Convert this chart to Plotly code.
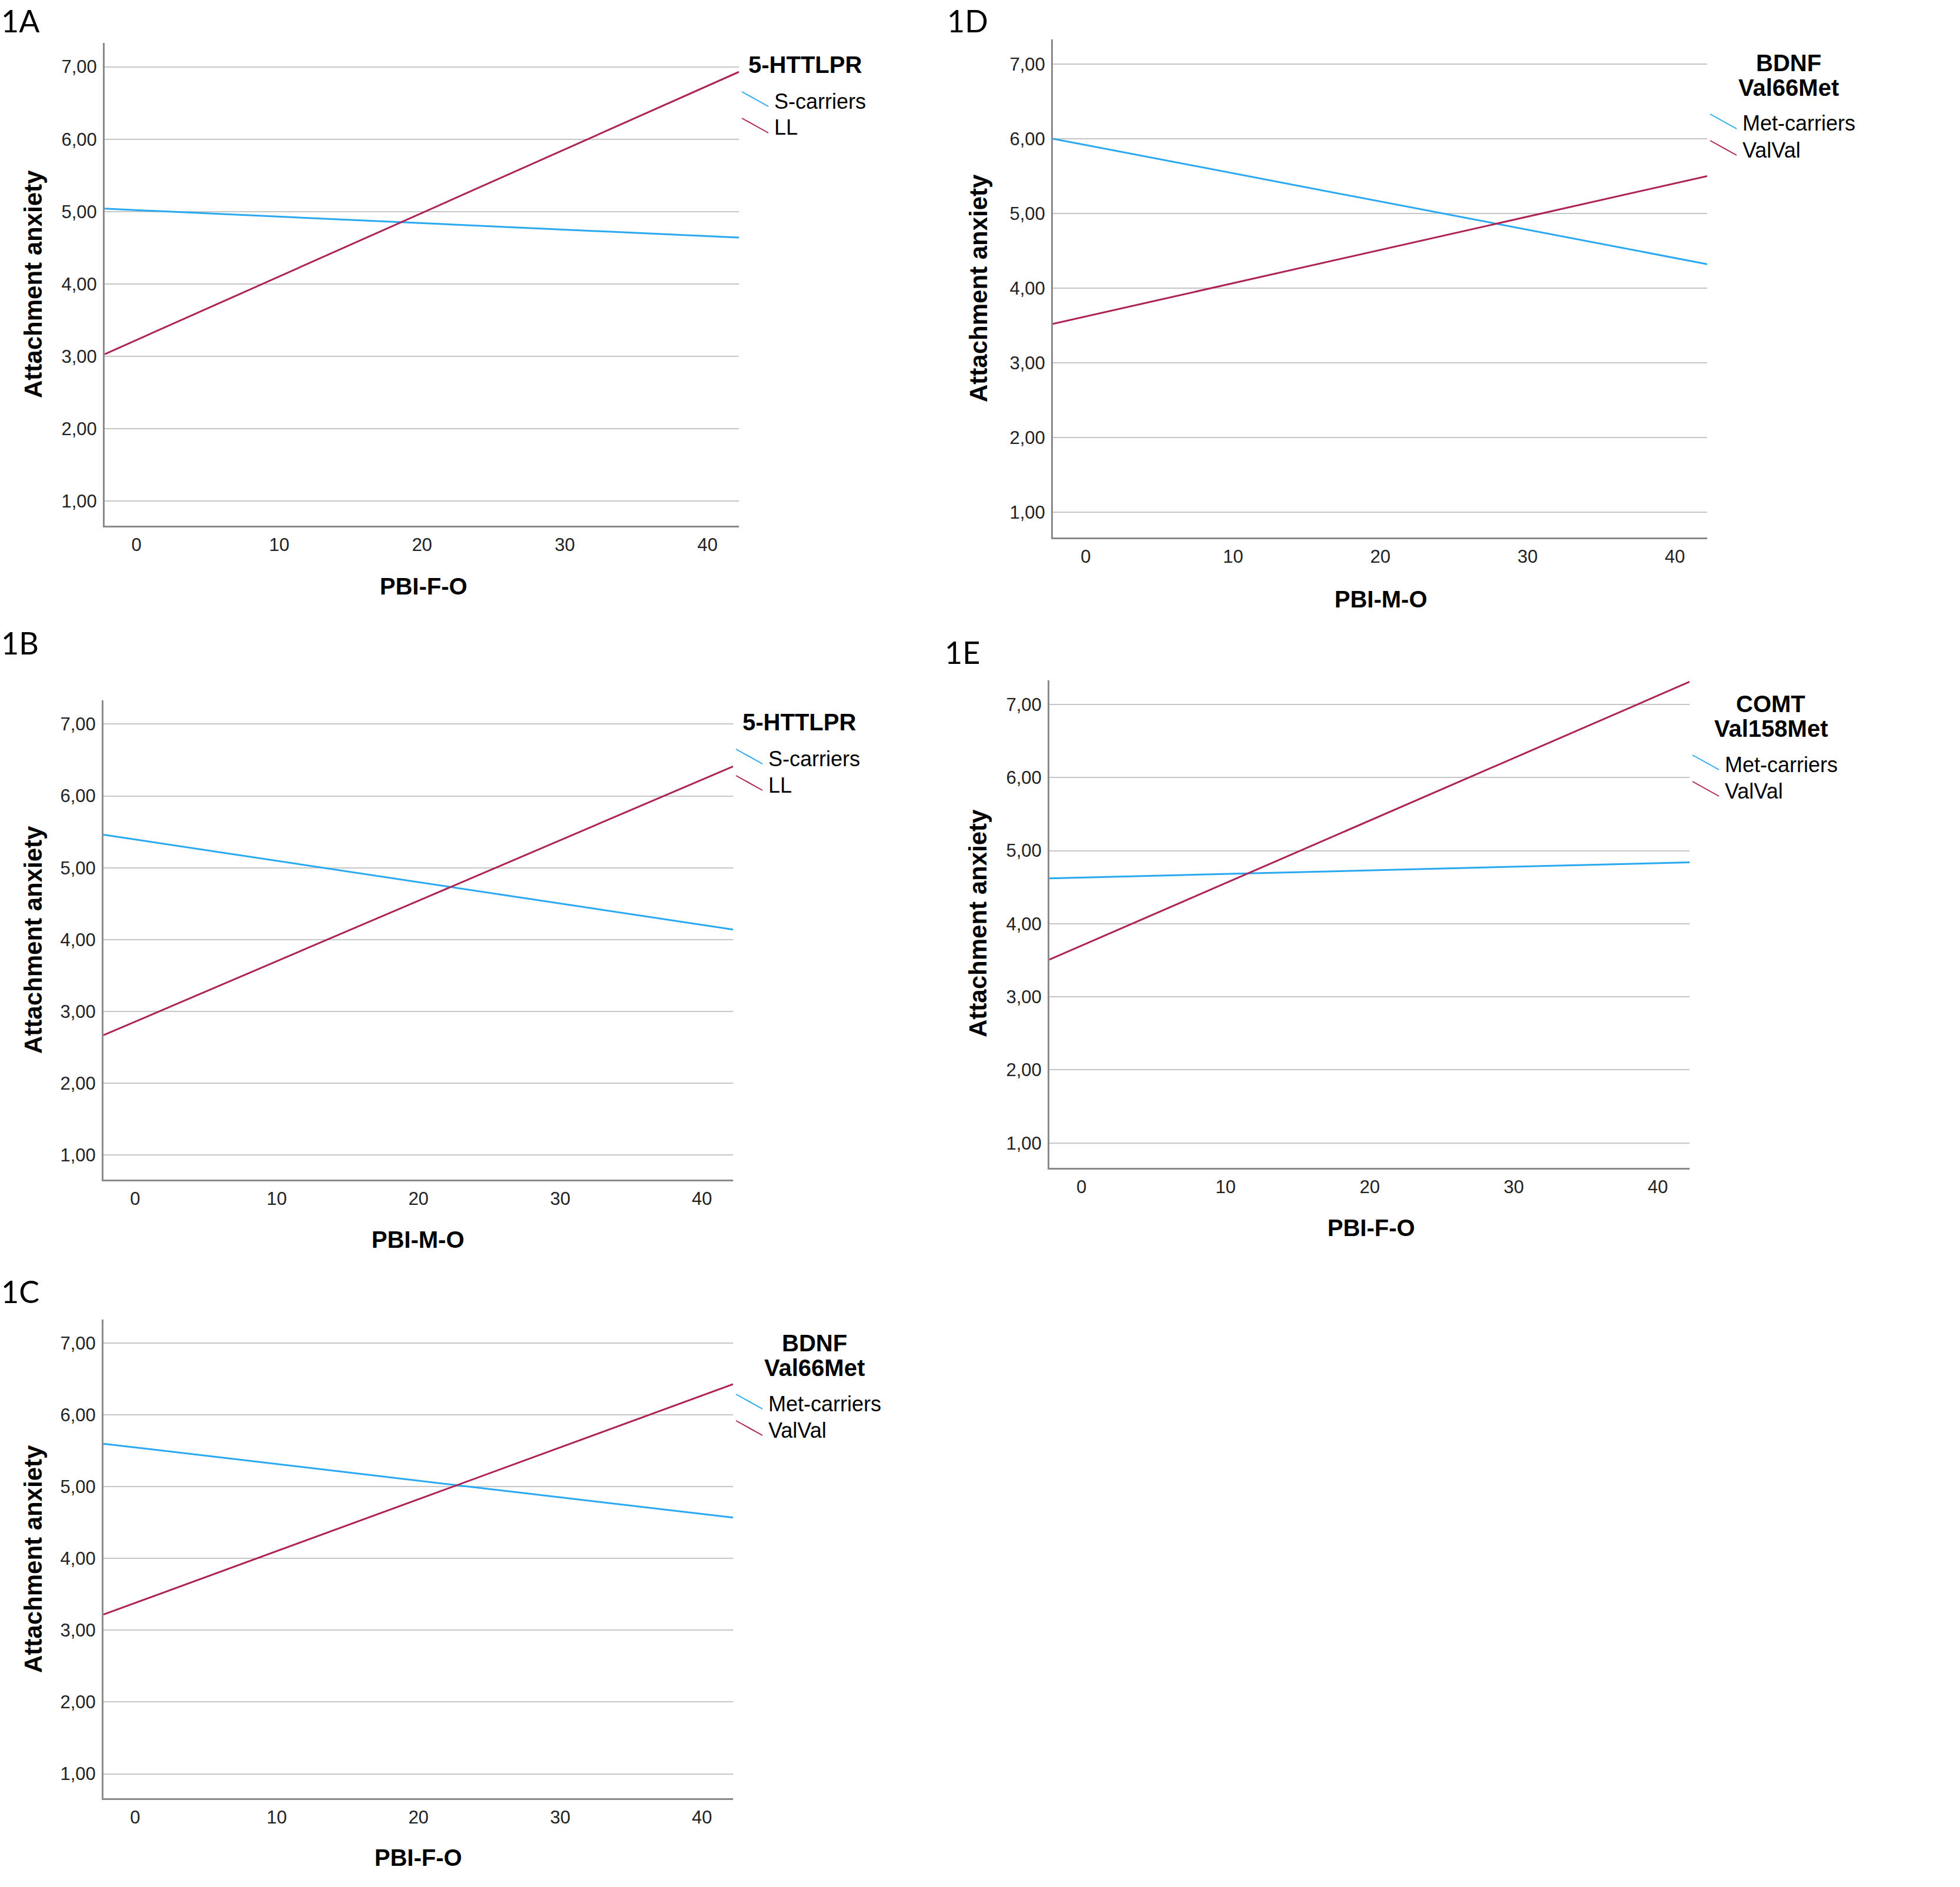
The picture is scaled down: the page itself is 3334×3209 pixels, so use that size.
import plotly.graph_objects as go

W, H = 3334, 3209

# data: fitted line values at the left and right ends of the x range
x_ends = [-2.23, 42.2]
y_ticks = [1, 2, 3, 4, 5, 6, 7]
y_ticktext = ["1,00", "2,00", "3,00", "4,00", "5,00", "6,00", "7,00"]
x_ticks = [0, 10, 20, 30, 40]

a_scarriers = [5.04, 4.64]
a_ll = [3.03, 6.93]
b_scarriers = [5.46, 4.14]
b_ll = [2.67, 6.41]
c_met = [5.60, 4.57]
c_valval = [3.22, 6.43]
d_met = [6.00, 4.32]
d_valval = [3.52, 5.50]
e_met = [4.62, 4.84]
e_valval = [3.51, 7.31]

BLUE = "#2aa8f2"
RED = "#ad2356"
FONT = "Liberation Sans, Arial, sans-serif"

# panel boxes in pixels: left, right, top, bottom
panels = [
    dict(label="1A", box=(178, 1257, 73, 894), xtitle="PBI-F-O", title=["5-HTTLPR"], center=False,
         names=["S-carriers", "LL"], series=[a_scarriers, a_ll], lab=(0, 2), xt=(720, 997), yt=(56, 483)),
    dict(label="1D", box=(1791, 2904, 67, 914), xtitle="PBI-M-O", title=["BDNF", "Val66Met"], center=True,
         names=["Met-carriers", "ValVal"], series=[d_met, d_valval], lab=(1609, 2), xt=(2349, 1019), yt=(1664, 490)),
    dict(label="1B", box=(176, 1247, 1191, 2006), xtitle="PBI-M-O", title=["5-HTTLPR"], center=False,
         names=["S-carriers", "LL"], series=[b_scarriers, b_ll], lab=(0, 1060), xt=(711, 2108), yt=(56, 1598)),
    dict(label="1E", box=(1785, 2874, 1157, 1986), xtitle="PBI-F-O", title=["COMT", "Val158Met"], center=True,
         names=["Met-carriers", "ValVal"], series=[e_met, e_valval], lab=(1605, 1076), xt=(2332, 2088), yt=(1664, 1570)),
    dict(label="1C", box=(176, 1247, 2244, 3058), xtitle="PBI-F-O", title=["BDNF", "Val66Met"], center=True,
         names=["Met-carriers", "ValVal"], series=[c_met, c_valval], lab=(0, 2163), xt=(711, 3159), yt=(56, 2651)),
]


def px(x):
    return x / W


def py(y):
    return 1 - y / H


fig = go.Figure()
annotations = []
shapes = []

for i, p in enumerate(panels):
    n = "" if i == 0 else str(i + 1)
    left, right, top, bottom = p["box"]
    for name, vals, col in zip(p["names"], p["series"], [BLUE, RED]):
        fig.add_trace(go.Scatter(x=x_ends, y=vals, mode="lines", name=name,
                                 line=dict(color=col, width=3),
                                 xaxis="x" + n, yaxis="y" + n, showlegend=False))
    fig.update_layout(**{
        "xaxis" + n: dict(domain=[px(left), px(right)], range=x_ends, anchor="y" + n,
                          tickvals=x_ticks, showgrid=False, zeroline=False,
                          showline=True, linecolor="#8a8a8a", linewidth=3, ticks="",
                          ticklabelstandoff=3,
                          tickfont=dict(family=FONT, size=31, color="#222")),
        "yaxis" + n: dict(domain=[py(bottom), py(top)], range=[0.66, 7.33], anchor="x" + n,
                          tickvals=y_ticks, ticktext=y_ticktext, showgrid=True,
                          gridcolor="#c6c6c6", gridwidth=2, zeroline=False,
                          showline=True, linecolor="#8a8a8a", linewidth=3, ticks="",
                          ticklabelstandoff=4,
                          tickfont=dict(family=FONT, size=31, color="#222")),
    })

    # panel label
    annotations.append(dict(text=p["label"], x=px(p["lab"][0]), y=py(p["lab"][1]),
                            xref="paper", yref="paper", xanchor="left", yanchor="top",
                            showarrow=False, font=dict(family="Lato, sans-serif", size=52, color="#000")))
    # axis titles
    annotations.append(dict(text="<b>" + p["xtitle"] + "</b>", x=px(p["xt"][0]), y=py(p["xt"][1]),
                            xref="paper", yref="paper", xanchor="center", yanchor="middle",
                            showarrow=False, font=dict(family=FONT, size=40, color="#000")))
    annotations.append(dict(text="<b>Attachment anxiety</b>", x=px(p["yt"][0]), y=py(p["yt"][1]),
                            xref="paper", yref="paper", xanchor="center", yanchor="middle",
                            textangle=-90, showarrow=False,
                            font=dict(family=FONT, size=42, color="#000")))

    # legend block to the right of the plot
    if p["center"]:
        tx, anchor = right + 138, "center"
        ty = [top + 40, top + 82]
        entry_y = top + 143
    else:
        tx, anchor = right + 14, "left"
        ty = [top + 37]
        entry_y = top + 99
    for line, yy in zip(p["title"], ty):
        annotations.append(dict(text="<b>" + line + "</b>", x=px(tx), y=py(yy),
                                xref="paper", yref="paper", xanchor=anchor, yanchor="middle",
                                showarrow=False, font=dict(family=FONT, size=40, color="#000")))
    for k, (name, col) in enumerate(zip(p["names"], [BLUE, RED])):
        ey = entry_y + 45 * k
        shapes.append(dict(type="line", xref="paper", yref="paper",
                           x0=px(right + 5), y0=py(ey - 16), x1=px(right + 50), y1=py(ey + 9),
                           line=dict(color=col, width=2)))
        annotations.append(dict(text=name, x=px(right + 58), y=py(ey),
                                xref="paper", yref="paper", xanchor="left", yanchor="middle",
                                showarrow=False, font=dict(family=FONT, size=36, color="#000")))

fig.update_layout(width=W, height=H, margin=dict(l=0, r=0, t=0, b=0),
                  paper_bgcolor="white", plot_bgcolor="white",
                  annotations=annotations, shapes=shapes, showlegend=False)

# drop the browser's default page margin so the figure sits at the window's corner
fig.write_html("out.html", config={"displayModeBar": False},
               post_script="document.body.style.margin='0';")
